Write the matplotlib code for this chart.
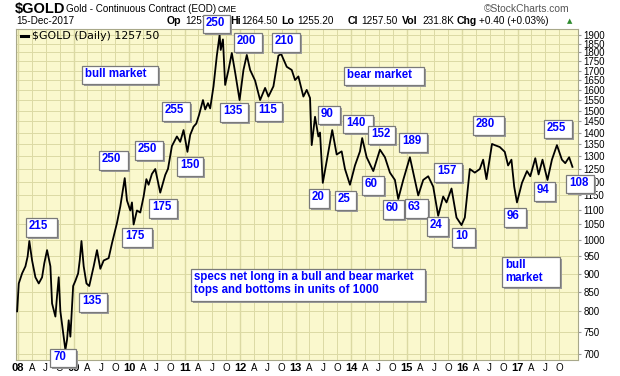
import matplotlib
matplotlib.use("Agg")
import matplotlib.pyplot as plt
from matplotlib.patches import Rectangle
import matplotlib.ticker as mticker

# daily close (decimal years, price)
t_year = [
    2007.98, 2008.01, 2008.07, 2008.13, 2008.17, 2008.20, 2008.25, 2008.31, 2008.37, 2008.43,
    2008.47, 2008.52, 2008.58, 2008.61, 2008.67, 2008.70, 2008.73, 2008.76, 2008.82, 2008.85,
    2008.88, 2008.91, 2008.94, 2008.99, 2009.03, 2009.08, 2009.11, 2009.14, 2009.18, 2009.23,
    2009.28, 2009.36, 2009.42, 2009.48, 2009.54, 2009.63, 2009.69, 2009.78, 2009.84, 2009.92,
    2009.96, 2010.02, 2010.05, 2010.08, 2010.14, 2010.20, 2010.26, 2010.31, 2010.35, 2010.41,
    2010.47, 2010.53, 2010.56, 2010.65, 2010.70, 2010.77, 2010.86, 2010.92, 2010.98, 2011.05,
    2011.10, 2011.16, 2011.21, 2011.26, 2011.33, 2011.37, 2011.42, 2011.46, 2011.52, 2011.58,
    2011.63, 2011.65, 2011.69, 2011.73, 2011.79, 2011.85, 2011.91, 2011.99, 2012.06, 2012.12,
    2012.18, 2012.27, 2012.36, 2012.45, 2012.51, 2012.60, 2012.69, 2012.74, 2012.84, 2012.93,
    2012.99, 2013.05, 2013.14, 2013.20, 2013.26, 2013.29, 2013.35, 2013.41, 2013.44, 2013.49,
    2013.56, 2013.66, 2013.74, 2013.83, 2013.89, 2013.98, 2014.07, 2014.16, 2014.20, 2014.28,
    2014.40, 2014.52, 2014.61, 2014.70, 2014.79, 2014.85, 2014.94, 2015.06, 2015.15, 2015.21,
    2015.30, 2015.39, 2015.48, 2015.57, 2015.66, 2015.72, 2015.81, 2015.90, 2015.99, 2016.05,
    2016.14, 2016.23, 2016.32, 2016.38, 2016.44, 2016.54, 2016.59, 2016.68, 2016.77, 2016.83,
    2016.89, 2016.94, 2016.99, 2017.08, 2017.17, 2017.23, 2017.32, 2017.38, 2017.45, 2017.54,
    2017.62, 2017.71, 2017.80, 2017.86, 2017.93, 2017.99]
close = [
    800, 873, 901, 921, 950, 997, 938, 890, 873, 890,
    930, 969, 921, 820, 787, 840, 890, 800, 739, 709,
    732, 778, 739, 866, 880, 901, 940, 997, 921, 873,
    866, 921, 969, 914, 938, 945, 990, 1055, 1111, 1214,
    1132, 1097, 1125, 1050, 1097, 1090, 1146, 1210, 1189, 1230,
    1249, 1190, 1160, 1226, 1250, 1342, 1383, 1360, 1411, 1318,
    1390, 1426, 1440, 1480, 1550, 1505, 1535, 1510, 1618, 1781,
    1900, 1813, 1874, 1625, 1703, 1796, 1690, 1550, 1703, 1785,
    1703, 1647, 1550, 1610, 1567, 1618, 1781, 1790, 1720, 1703,
    1650, 1669, 1567, 1600, 1560, 1346, 1471, 1383, 1400, 1196,
    1280, 1411, 1307, 1320, 1249, 1189, 1263, 1320, 1376, 1296,
    1241, 1327, 1296, 1235, 1207, 1137, 1207, 1296, 1207, 1150,
    1207, 1221, 1182, 1079, 1146, 1125, 1175, 1073, 1048, 1073,
    1249, 1235, 1249, 1286, 1210, 1351, 1346, 1338, 1318, 1263,
    1286, 1182, 1125, 1196, 1241, 1221, 1292, 1228, 1286, 1207,
    1286, 1346, 1286, 1272, 1296, 1257.5]

years = list(range(2008, 2018))
month_letters = ["A", "J", "O"]
price_ticks = list(range(700, 1901, 50))

# annotation boxes: text and (left, top, width, height) in pixels
notes = ["250", "200", "210", "135", "115", "255", "150", "175", "250", "250",
         "175", "215", "135", "70", "bull market", "bear market", "90", "140",
         "152", "189", "157", "20", "25", "60", "60", "63", "24", "10", "280",
         "255", "96", "94", "108", "bull\nmarket",
         "specs net long in a bull and bear market\ntops and bottoms in units of 1000"]
note_boxes = [(203, 15, 27, 18), (234, 33, 28, 19), (272, 33, 28, 19), (220, 103, 28, 19),
              (255, 102, 27, 19), (162, 102, 28, 19), (177, 157, 26, 19), (149, 199, 28, 19),
              (135, 141, 28, 19), (99, 151, 29, 19), (122, 228, 30, 19), (26, 218, 31, 19),
              (79, 293, 28, 19), (50, 349, 26, 18), (82, 66, 76, 18), (344, 67, 80, 18),
              (318, 106, 22, 18), (343, 115, 30, 18), (368, 126, 27, 18), (399, 133, 28, 19),
              (434, 163, 28, 19), (309, 189, 20, 19), (335, 191, 21, 19), (362, 176, 22, 19),
              (383, 200, 21, 19), (405, 199, 23, 19), (427, 217, 21, 19), (452, 228, 23, 19),
              (473, 116, 31, 19), (544, 120, 28, 18), (504, 208, 22, 19), (534, 182, 21, 19),
              (566, 175, 28, 18), (502, 257, 58, 30), (191, 269, 234, 32)]

W, H = 620, 376
plt.rcParams['font.family'] = ['Liberation Sans', 'DejaVu Sans']


def px(x, y):
    return x / W, 1 - y / H


fig = plt.figure(figsize=(6.2, 3.76), dpi=100)
ax = fig.add_axes([16 / W, 1 - 360 / H, 562 / W, 331 / H])
ax.set_facecolor('#faf8cd')

ax.plot(t_year, close, color='black', lw=1.3, zorder=3)

ax.set_yscale('log')
ax.set_ylim(687, 1936)
ax.set_xlim(2007.96, 2018.09)
ax.yaxis.set_major_locator(mticker.FixedLocator(price_ticks))
ax.yaxis.set_minor_locator(mticker.NullLocator())
ax.yaxis.set_major_formatter(mticker.FixedFormatter([str(p) for p in price_ticks]))
ax.yaxis.tick_right()

xt, xl = [], []
for y in years:
    xt += [y, y + 0.247, y + 0.496, y + 0.748]
    xl += ["%02d" % (y % 100)] + month_letters
ax.set_xticks(xt)
ax.set_xticklabels(xl)
for lab in ax.get_xticklabels():
    if lab.get_text().isdigit():
        lab.set_fontweight('bold')
        lab.set_fontsize(8)
    else:
        lab.set_fontsize(7)

ax.tick_params(axis='y', labelsize=7, length=2, pad=2, color='#999999', direction='out')
ax.tick_params(axis='x', length=0, pad=2)
ax.grid(True, color='#dcdaa4', lw=0.7, zorder=1)
for y in years:
    ax.axvline(y, color='#c4c48c', lw=0.9, zorder=1)
for s in ax.spines.values():
    s.set_color('#a8a88a')
    s.set_linewidth(0.8)

# legend inside plot
fig.add_artist(plt.Line2D([21 / W, 28 / W], [1 - 36 / H, 1 - 36 / H],
                          color='black', lw=2.2, zorder=4))
fig.text(*px(32, 36), "$GOLD (Daily) 1257.50", family='DejaVu Sans', fontsize=7.9,
         va='center', ha='left', zorder=4)

# header
fig.text(*px(15, 9), "$GOLD", fontweight='bold', fontsize=10.5, va='center', ha='left')
fig.text(*px(66, 9), "Gold - Continuous Contract (EOD)", fontsize=7.1, va='center')
fig.text(*px(218, 9.5), "CME", fontsize=6.2, va='center')
fig.text(*px(570, 9), "\u00a9StockCharts.com", fontsize=7.4, color='#555555',
         va='center', ha='right')

row = [(16, "15-Dec-2017", False), (167, "Op", True), (185, "1257.10", False),
       (230, "Hi", True), (241, "1264.50", False), (281, "Lo", True),
       (297, "1255.20", False), (348, "Cl", True), (361, "1257.50", False),
       (402, "Vol", True), (422, "231.8K", False), (457, "Chg", True),
       (479, "+0.40 (+0.03%)", False)]
for x, s, b in row:
    fig.text(*px(x, 21.5), s, fontsize=7.6 if b else 7.2,
             fontweight='bold' if b else 'normal', va='center', ha='left')
fig.text(*px(567, 21), "\u25b2", fontsize=5, color='#2e8b2e', va='center', ha='left',
         family='DejaVu Sans')

# annotation boxes
for s, (bx, by, bw, bh) in zip(notes, note_boxes):
    fig.add_artist(Rectangle(px(bx + 2, by + bh + 2), bw / W, bh / H,
                             transform=fig.transFigure, fc='#9c9c9c', ec='none', zorder=5))
    fig.add_artist(Rectangle(px(bx, by + bh), bw / W, bh / H, transform=fig.transFigure,
                             fc='white', ec='#7a7a7a', lw=0.9, zorder=6))
    fig.text(*px(bx + 3, by + 2), s, color='#0000ff', fontweight='bold', fontsize=8.3,
             va='top', ha='left', linespacing=1.15, zorder=7)

fig.savefig('out.png', dpi=100, facecolor='white')
